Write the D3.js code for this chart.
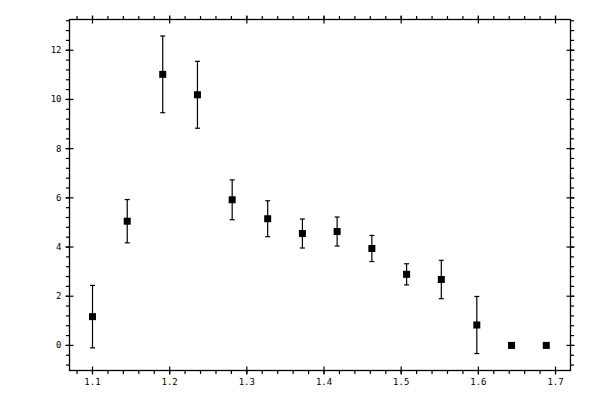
<!DOCTYPE html>
<html>
<head>
<meta charset="utf-8">
<script src="https://cdn.jsdelivr.net/npm/d3@7"></script>
<style>
  body { margin: 0; background: #fff; }
  text { font-family: "DejaVu Sans Mono", monospace; font-size: 9px; fill: #000; }
</style>
</head>
<body>
<script>
// ----- data -----
const xValues = [1.100, 1.145, 1.191, 1.236, 1.281, 1.327, 1.372, 1.417, 1.462, 1.507, 1.552, 1.598, 1.643, 1.688];
const yValues = [1.17, 5.05, 11.02, 10.19, 5.92, 5.15, 4.55, 4.63, 3.94, 2.89, 2.68, 0.83, 0.0, 0.0];
const yErrors = [1.27, 0.88, 1.56, 1.36, 0.81, 0.73, 0.59, 0.59, 0.53, 0.43, 0.78, 1.16, 0, 0];
const xTicks = [1.1, 1.2, 1.3, 1.4, 1.5, 1.6, 1.7];
const yTicks = [0, 2, 4, 6, 8, 10, 12];

const points = xValues.map((x, i) => ({ x: x, y: yValues[i], e: yErrors[i] }));

const W = 600, H = 400;
// plot frame edges
const pLeft = 69.5, pRight = 570.5, pTop = 19.5, pBottom = 370.5;

const svg = d3.select('body')
  .append('svg')
  .attr('width', W)
  .attr('height', H);

const x = d3.scaleLinear().domain([1.0702, 1.7194]).range([pLeft, pRight]);
const y = d3.scaleLinear().domain([-1.02, 13.25]).range([pBottom, pTop]);

// minor ticks
const xMinor = d3.range(1.08, 1.72, 0.02).filter(v => x(v) > pLeft + 1 && x(v) < pRight - 1);
const yMinor = d3.range(-0.8, 13.3, 0.4).filter(v => y(v) > pTop + 1 && y(v) < pBottom - 1);

// ----- frame -----
svg.append('rect')
  .attr('x', pLeft).attr('y', pTop)
  .attr('width', pRight - pLeft).attr('height', pBottom - pTop)
  .attr('fill', 'none').attr('stroke', '#000').attr('stroke-width', 1.3);

const ticks = svg.append('g').attr('stroke', '#000').attr('stroke-width', 1.2);

// bottom / top minor (outward)
ticks.selectAll('.xmb').data(xMinor).join('line')
  .attr('x1', d => x(d)).attr('x2', d => x(d))
  .attr('y1', pBottom).attr('y2', pBottom + 3.5);
ticks.selectAll('.xmt').data(xMinor).join('line')
  .attr('x1', d => x(d)).attr('x2', d => x(d))
  .attr('y1', pTop).attr('y2', pTop - 3.5);
// bottom / top major (crossing)
ticks.selectAll('.xMb').data(xTicks).join('line')
  .attr('x1', d => x(d)).attr('x2', d => x(d))
  .attr('y1', pBottom - 4).attr('y2', pBottom + 4);
ticks.selectAll('.xMt').data(xTicks).join('line')
  .attr('x1', d => x(d)).attr('x2', d => x(d))
  .attr('y1', pTop + 4).attr('y2', pTop - 4);

// left / right minor
ticks.selectAll('.yml').data(yMinor).join('line')
  .attr('x1', pLeft).attr('x2', pLeft - 3.5)
  .attr('y1', d => y(d)).attr('y2', d => y(d));
ticks.selectAll('.ymr').data(yMinor).join('line')
  .attr('x1', pRight).attr('x2', pRight + 3.5)
  .attr('y1', d => y(d)).attr('y2', d => y(d));
// left / right major
ticks.selectAll('.yMl').data(yTicks).join('line')
  .attr('x1', pLeft - 4).attr('x2', pLeft + 4)
  .attr('y1', d => y(d)).attr('y2', d => y(d));
ticks.selectAll('.yMr').data(yTicks).join('line')
  .attr('x1', pRight - 4).attr('x2', pRight + 4)
  .attr('y1', d => y(d)).attr('y2', d => y(d));

// tick labels
svg.selectAll('.xl').data(xTicks).join('text')
  .attr('x', d => x(d)).attr('y', 385)
  .attr('text-anchor', 'middle')
  .text(d => d3.format('.1f')(d));

svg.selectAll('.yl').data(yTicks).join('text')
  .attr('x', 61.5).attr('y', d => y(d) + 3)
  .attr('text-anchor', 'end')
  .text(d => d);

// ----- error bars -----
const bars = svg.append('g').attr('stroke', '#000').attr('stroke-width', 1.2);
const withErr = points.filter(d => d.e > 0);

bars.selectAll('.v').data(withErr).join('line')
  .attr('x1', d => x(d.x)).attr('x2', d => x(d.x))
  .attr('y1', d => y(d.y - d.e)).attr('y2', d => y(d.y + d.e));
bars.selectAll('.ct').data(withErr).join('line')
  .attr('x1', d => x(d.x) - 2.5).attr('x2', d => x(d.x) + 2.5)
  .attr('y1', d => y(d.y + d.e)).attr('y2', d => y(d.y + d.e));
bars.selectAll('.cb').data(withErr).join('line')
  .attr('x1', d => x(d.x) - 2.5).attr('x2', d => x(d.x) + 2.5)
  .attr('y1', d => y(d.y - d.e)).attr('y2', d => y(d.y - d.e));

// ----- markers -----
svg.selectAll('.pt').data(points).join('rect')
  .attr('x', d => x(d.x) - 3.5)
  .attr('y', d => y(d.y) - 3.5)
  .attr('width', 7).attr('height', 7)
  .attr('fill', '#000');
</script>
</body>
</html>
